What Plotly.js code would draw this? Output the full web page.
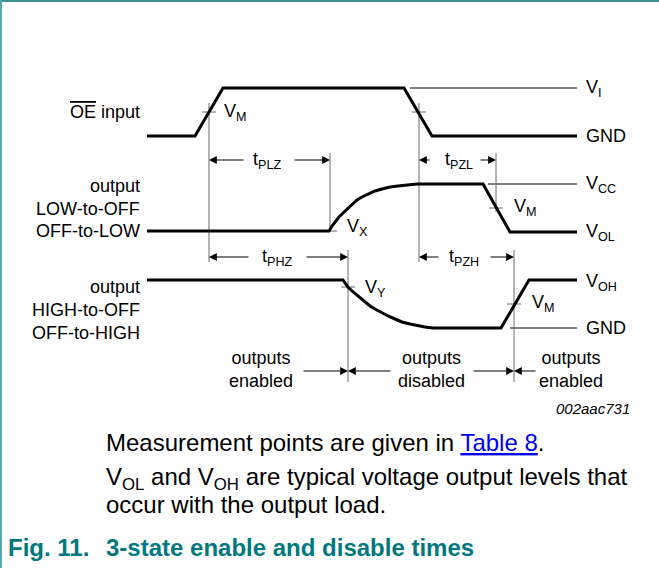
<!DOCTYPE html>
<html>
<head>
<meta charset="utf-8">
<script src="https://cdn.plot.ly/plotly-3.0.1.min.js"></script>
<style>html,body{margin:0;padding:0;background:#fff;}#chart{width:659px;height:568px;}</style>
</head>
<body>
<div id="chart"></div>
<script>
// ---- waveform data (diagram coordinates: x = time, y = level position) ----
const oeX   = [147, 195, 223, 404, 432, 577];
const oeY   = [136, 136,  88,  88, 136, 136];

const lowX  = [147, 329, 332, 335, 339, 343, 347, 352, 357, 362, 368, 375, 382, 390, 398, 405, 412, 418, 483, 510, 577];
const lowY  = [231, 231, 226, 222, 217, 213, 209, 204, 200, 197, 194, 191, 189, 187, 186, 185, 184.5, 184, 184, 232, 232];

const highX = [147, 343, 345, 348, 352, 357, 361, 365, 370, 375, 381, 388, 395, 402, 410, 418, 425, 433, 501, 529, 577];
const highY = [280, 280, 283, 287, 291, 295, 299, 302, 306, 309, 312.5, 316, 319, 322, 324, 326, 327, 328, 328, 280, 280];

// reference level lines (V_I, V_CC, GND)
const refX0 = [410, 488, 510];
const refX1 = [577, 577, 577];
const refY  = [88, 184, 328];

// measurement crossing ticks
const tickX = [209, 419, 330, 496, 348, 514];
const tickY = [112, 112, 231, 208, 287, 304];

// vertical guide lines
const guideX   = [209, 330, 419, 496, 348, 514];
const guideTop = [103, 153, 103, 153, 250, 250];
const guideBot = [262, 232, 262, 212, 382, 382];

// dimension arrows: tip x, tail x, y
const arrTip  = [209, 330, 419, 496, 209, 348, 419, 514, 348, 348, 514, 514];
const arrTail = [245, 293, 431, 479, 250, 305, 440, 489, 302, 392, 472, 537];
const arrY    = [160, 160, 160, 160, 257, 257, 257, 257, 371, 371, 371, 371];

// labels
const leftLabels = ['<span style="text-decoration:overline">OE</span> input', 'output', 'LOW-to-OFF', 'OFF-to-LOW', 'output', 'HIGH-to-OFF', 'OFF-to-HIGH'];
const leftLabelY = [112, 186, 209, 231, 287, 310, 333];

const rightLabels = ['V<sub>I</sub>', 'GND', 'V<sub>CC</sub>', 'V<sub>OL</sub>', 'V<sub>OH</sub>', 'GND'];
const rightLabelY = [88, 136, 184, 232, 282, 328];

const innerLabels = ['V<sub>M</sub>', 't<sub>PLZ</sub>', 'V<sub>X</sub>', 't<sub>PZL</sub>', 'V<sub>M</sub>', 't<sub>PHZ</sub>', 't<sub>PZH</sub>', 'V<sub>Y</sub>', 'V<sub>M</sub>'];
const innerLabelX = [222, 251, 345, 443, 512, 260, 447, 363, 530];
const innerLabelY = [112, 160, 227, 160, 207, 257, 257, 288, 303];

const stateLabels = ['outputs<br>enabled', 'outputs<br>disabled', 'outputs<br>enabled'];
const stateLabelX = [261, 431, 571];

const FONT = 'Liberation Sans, Arial, sans-serif';
const thin = {color: '#000', width: 1};
const gray = {color: '#6b6b6b', width: 1};

function segs(x0s, x1s, y0s, y1s) {
  const xs = [], ys = [];
  for (let i = 0; i < x0s.length; i++) {
    xs.push(x0s[i], x1s[i], null);
    ys.push(y0s[i], y1s[i], null);
  }
  return {xs, ys};
}

const traces = [];
const ref = segs(refX0, refX1, refY, refY);
traces.push({x: ref.xs, y: ref.ys, mode: 'lines', line: thin, hoverinfo: 'skip'});
const gd = segs(guideX, guideX, guideTop, guideBot);
traces.push({x: gd.xs, y: gd.ys, mode: 'lines', line: gray, hoverinfo: 'skip'});
const tk = segs(tickX.map(v => v - 7), tickX.map(v => v + 7), tickY, tickY);
traces.push({x: tk.xs, y: tk.ys, mode: 'lines', line: gray, hoverinfo: 'skip'});
const thick = {color: '#000', width: 3};
traces.push({x: oeX, y: oeY, mode: 'lines', line: thick, hoverinfo: 'skip'});
traces.push({x: lowX, y: lowY, mode: 'lines', line: thick, hoverinfo: 'skip'});
traces.push({x: highX, y: highY, mode: 'lines', line: thick, hoverinfo: 'skip'});

const ann = [];
for (let i = 0; i < arrTip.length; i++) {
  ann.push({x: arrTip[i], y: arrY[i], ax: arrTail[i], ay: arrY[i], axref: 'x', ayref: 'y', xref: 'x', yref: 'y',
    text: '', showarrow: true, arrowhead: 2, arrowsize: 1.3, arrowwidth: 1.2, arrowcolor: '#000', standoff: 0, startstandoff: 0});
}
const lf = {family: FONT, size: 18, color: '#000'};
leftLabels.forEach((t, i) => ann.push({x: 142, y: leftLabelY[i], text: t, showarrow: false, xanchor: 'right', yanchor: 'middle', font: lf}));
rightLabels.forEach((t, i) => ann.push({x: 584, y: rightLabelY[i], text: t, showarrow: false, xanchor: 'left', yanchor: 'middle', font: lf}));
innerLabels.forEach((t, i) => ann.push({x: innerLabelX[i], y: innerLabelY[i], text: t, showarrow: false, xanchor: 'left', yanchor: 'middle', font: lf}));
stateLabels.forEach((t, i) => ann.push({x: stateLabelX[i], y: 369, text: t, showarrow: false, xanchor: 'center', yanchor: 'middle', font: lf}));

ann.push({x: 632, y: 408, text: '<i>002aac731</i>', showarrow: false, xanchor: 'right', yanchor: 'middle', font: {family: FONT, size: 15, color: '#000'}});
const pf = {family: FONT, size: 24, color: '#000'};
ann.push({x: 104, y: 442, text: 'Measurement points are given in <span style="color:#0000ee;text-decoration:underline">Table 8</span>.', showarrow: false, xanchor: 'left', yanchor: 'middle', font: pf});
ann.push({x: 104, y: 478, text: 'V<sub>OL</sub> and V<sub>OH</sub> are typical voltage output levels that', showarrow: false, xanchor: 'left', yanchor: 'middle', font: pf});
ann.push({x: 104, y: 504, text: 'occur with the output load.', showarrow: false, xanchor: 'left', yanchor: 'middle', font: pf});
const cf = {family: FONT, size: 24, color: '#00787e', weight: 'bold'};
ann.push({x: 6, y: 547, text: '<b>Fig. 11.</b>', showarrow: false, xanchor: 'left', yanchor: 'middle', font: cf});
ann.push({x: 104, y: 547, text: '<b>3-state enable and disable times</b>', showarrow: false, xanchor: 'left', yanchor: 'middle', font: cf});

const layout = {
  width: 659, height: 568,
  margin: {l: 0, r: 0, t: 0, b: 0},
  paper_bgcolor: '#fff', plot_bgcolor: '#fff',
  showlegend: false,
  xaxis: {range: [0, 659], visible: false, fixedrange: true},
  yaxis: {range: [568, 0], visible: false, fixedrange: true},
  annotations: ann,
  shapes: [
    {type: 'rect', xref: 'paper', yref: 'paper', x0: 0, x1: 1, y0: 1, y1: 0.9965, fillcolor: '#3f8f98', line: {width: 0}},
    {type: 'rect', xref: 'paper', yref: 'paper', x0: 0, x1: 0.003, y0: 0, y1: 1, fillcolor: '#5aa6b0', line: {width: 0}}
  ]
};
Plotly.newPlot('chart', traces, layout, {staticPlot: true, displayModeBar: false});
</script>
</body>
</html>
